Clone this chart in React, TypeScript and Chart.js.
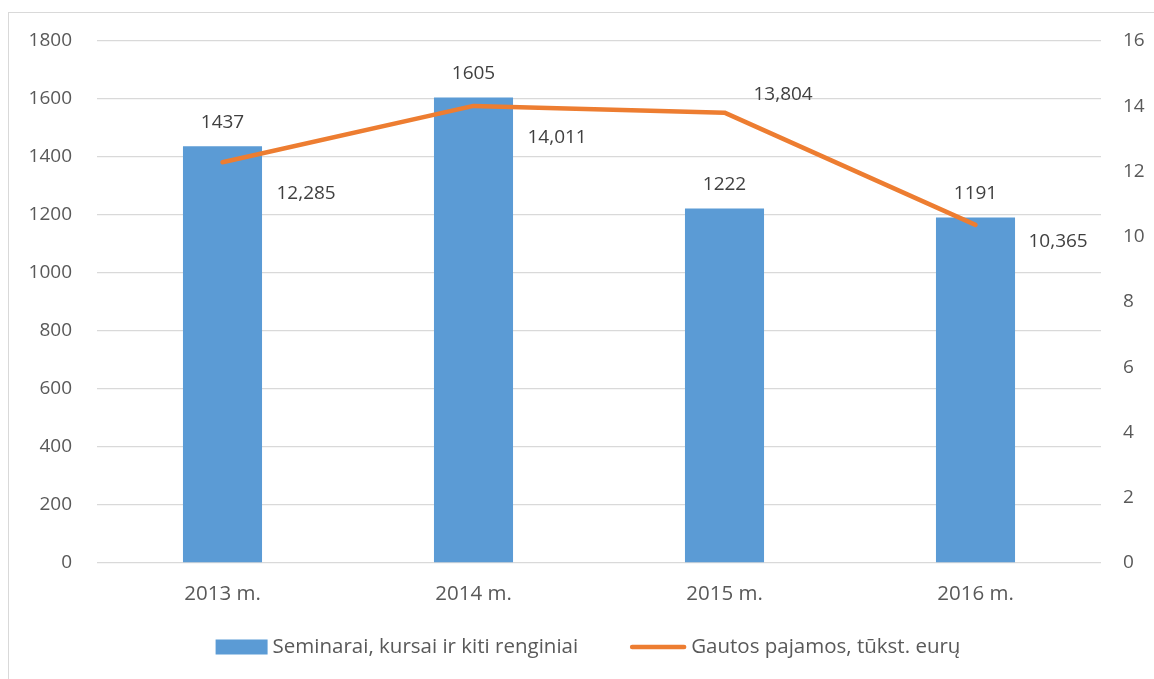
import React, { useEffect, useRef } from "react";
import { Chart, registerables } from "chart.js";

Chart.register(...registerables);

const categories = ["2013 m.", "2014 m.", "2015 m.", "2016 m."];
const eventsValues = [1437, 1605, 1222, 1191];
const incomeValues = [12.285, 14.011, 13.804, 10.365];
const leftTicks = [0, 200, 400, 600, 800, 1000, 1200, 1400, 1600, 1800];
const rightTicks = [0, 2, 4, 6, 8, 10, 12, 14, 16];
const seriesNames = ["Seminarai, kursai ir kiti renginiai", "Gautos pajamos, tūkst. eurų"];

const BLUE = "#5B9BD5";
const ORANGE = "#ED7D31";
const TEXT = "#595959";
const LABEL = "#404040";
const FONT_FAMILY = "'Open Sans', 'DejaVu Sans', sans-serif";
const FONT_SIZE = 19;
const TEXT_FONT_SIZE = 20.5;

// label placement offsets (style only)
const lineLabelOffsets = [
  [54, 31],
  [54, 32],
  [29, -18],
  [53, 17],
];

const labelsPlugin = {
  id: "customLabels",
  afterDatasetsDraw(chart: any) {
    const ctx = chart.ctx;
    ctx.save();
    ctx.font = `${FONT_SIZE}px ${FONT_FAMILY}`;
    ctx.fillStyle = LABEL;
    const barMeta = chart.getDatasetMeta(1);
    barMeta.data.forEach((el: any, i: number) => {
      ctx.textAlign = "center";
      ctx.textBaseline = "middle";
      ctx.fillText(String(eventsValues[i]), el.x, el.y - 24);
    });
    const lineMeta = chart.getDatasetMeta(0);
    lineMeta.data.forEach((el: any, i: number) => {
      ctx.textAlign = "left";
      ctx.textBaseline = "middle";
      const [dx, dy] = lineLabelOffsets[i];
      ctx.fillText(incomeValues[i].toFixed(3).replace(".", ","), el.x + dx, el.y + dy);
    });
    ctx.restore();
  },
};

const legendPlugin = {
  id: "customLegend",
  afterDraw(chart: any) {
    const ctx = chart.ctx;
    ctx.save();
    ctx.font = `${TEXT_FONT_SIZE}px ${FONT_FAMILY}`;
    const tw1 = ctx.measureText(seriesNames[0]).width;
    const tw2 = ctx.measureText(seriesNames[1]).width;
    const boxW = 52;
    const lineW = 56;
    const gapText = 5;
    const gapItems = 52;
    const total = boxW + gapText + tw1 + gapItems + lineW + gapText + tw2;
    const cx = 579;
    const y = 634;
    let x = cx - total / 2;
    ctx.fillStyle = BLUE;
    ctx.fillRect(x, y - 7.5, boxW, 15);
    x += boxW + gapText;
    ctx.fillStyle = TEXT;
    ctx.textAlign = "left";
    ctx.textBaseline = "middle";
    ctx.fillText(seriesNames[0], x, y);
    x += tw1 + gapItems;
    ctx.strokeStyle = ORANGE;
    ctx.lineWidth = 4.5;
    ctx.lineCap = "round";
    ctx.beginPath();
    ctx.moveTo(x + 2, y);
    ctx.lineTo(x + lineW - 2, y);
    ctx.stroke();
    x += lineW + gapText;
    ctx.fillText(seriesNames[1], x, y);
    ctx.restore();
  },
};

export default function App() {
  const ref = useRef<HTMLCanvasElement>(null);
  useEffect(() => {
    if (!ref.current) return;
    const chart = new Chart(ref.current, {
      type: "bar",
      data: {
        labels: categories,
        datasets: [
          {
            type: "line",
            label: seriesNames[1],
            data: incomeValues,
            borderColor: ORANGE,
            backgroundColor: ORANGE,
            borderWidth: 4.5,
            pointRadius: 0,
            borderCapStyle: "round",
            borderJoinStyle: "round",
            tension: 0,
            yAxisID: "y1",
            order: 0,
          } as any,
          {
            type: "bar",
            label: seriesNames[0],
            data: eventsValues,
            backgroundColor: BLUE,
            barPercentage: 0.315,
            categoryPercentage: 1,
            yAxisID: "y",
            order: 1,
          },
        ],
      },
      options: {
        responsive: false,
        animation: false,
        layout: { padding: { top: 28, left: 0, right: 0, bottom: 0 } },
        plugins: {
          legend: { display: false },
          tooltip: { enabled: false },
        },
        scales: {
          x: {
            grid: { display: false, drawTicks: false },
            border: { display: false },
            ticks: {
              color: TEXT,
              font: { family: FONT_FAMILY, size: TEXT_FONT_SIZE },
              padding: 19,
            },
            afterFit(scale: any) {
              scale.height = 116;
              scale.paddingLeft = 0;
              scale.paddingRight = 0;
            },
          },
          y: {
            position: "left",
            min: 0,
            max: 1800,
            afterBuildTicks(scale: any) {
              scale.ticks = leftTicks.map((v) => ({ value: v }));
            },
            grid: { color: "#D9D9D9", lineWidth: 1.3, drawTicks: false },
            border: { display: false },
            ticks: {
              color: TEXT,
              font: { family: FONT_FAMILY, size: FONT_SIZE },
              padding: 25,
              callback: (v: any) => String(v),
            },
            afterFit(scale: any) {
              scale.width = 88;
              scale.paddingTop = 0;
              scale.paddingBottom = 0;
            },
          },
          y1: {
            position: "right",
            min: 0,
            max: 16,
            afterBuildTicks(scale: any) {
              scale.ticks = rightTicks.map((v) => ({ value: v }));
            },
            grid: { display: false, drawTicks: false },
            border: { display: false },
            ticks: {
              color: TEXT,
              font: { family: FONT_FAMILY, size: FONT_SIZE },
              padding: 22,
              callback: (v: any) => String(v),
            },
            afterFit(scale: any) {
              scale.width = 53;
              scale.paddingTop = 0;
              scale.paddingBottom = 0;
            },
          },
        },
      },
      plugins: [labelsPlugin, legendPlugin],
    });
    return () => chart.destroy();
  }, []);

  return (
    <div
      style={{
        position: "absolute",
        left: 8,
        top: 12,
        width: 1146,
        height: 667,
        borderTop: "1px solid #D9D9D9",
        borderLeft: "1px solid #D9D9D9",
        overflow: "hidden",
        background: "#fff",
      }}
    >
      <canvas ref={ref} width={1145} height={666} style={{ display: "block", width: 1145, height: 666 }} />
    </div>
  );
}
